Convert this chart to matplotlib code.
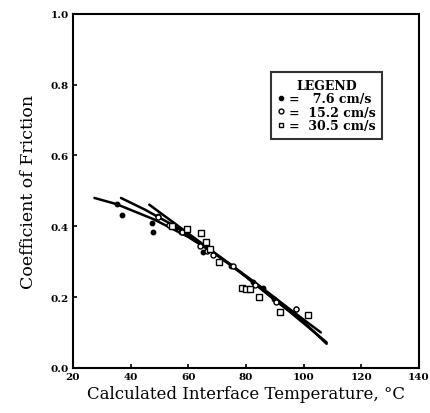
import matplotlib
matplotlib.use("Agg")
import matplotlib.pyplot as plt
from matplotlib.lines import Line2D

# Data
x_76 = [35.3, 36.9, 47.4, 47.8, 49.7, 55.7, 57.5, 65.1, 75.0, 82.6, 86.0, 89.9, 97.3]
y_76 = [0.463, 0.432, 0.410, 0.385, 0.430, 0.397, 0.385, 0.327, 0.289, 0.242, 0.225, 0.195, 0.167]

x_152 = [49.5, 53.5, 58.0, 64.0, 66.5, 68.5, 75.5, 83.0, 90.5, 97.5]
y_152 = [0.425, 0.405, 0.385, 0.345, 0.330, 0.318, 0.288, 0.235, 0.185, 0.165]

x_305 = [54.5, 59.7, 64.3, 66.0, 67.5, 70.6, 78.6, 80.0, 81.5, 84.4, 91.8, 101.6]
y_305 = [0.400, 0.393, 0.380, 0.355, 0.336, 0.298, 0.225, 0.222, 0.223, 0.200, 0.157, 0.150]

fit_76_x = [27.5, 35, 48, 60, 70, 80, 90, 100, 108]
fit_76_y = [0.480, 0.463, 0.420, 0.370, 0.318, 0.258, 0.192, 0.130, 0.068]

fit_152_x = [36.7, 45, 55, 65, 75, 85, 95, 106]
fit_152_y = [0.480, 0.447, 0.402, 0.347, 0.290, 0.230, 0.167, 0.100]

fit_305_x = [46.5, 50, 55, 65, 75, 85, 95, 108]
fit_305_y = [0.461, 0.440, 0.410, 0.350, 0.290, 0.225, 0.160, 0.072]

legend_labels = ["=   7.6 cm/s", "=  15.2 cm/s", "=  30.5 cm/s"]
xticks = [20, 40, 60, 80, 100, 120, 140]
yticks = [0.0, 0.2, 0.4, 0.6, 0.8, 1.0]

serif = ["DejaVu Serif"]

fig = plt.figure(figsize=(4.31, 4.14), dpi=100)
ax = fig.add_axes([0.169, 0.109, 0.803, 0.855])

for fx, fy in [(fit_76_x, fit_76_y), (fit_152_x, fit_152_y), (fit_305_x, fit_305_y)]:
    ax.plot(fx, fy, color="black", lw=1.8, solid_capstyle="round")

ax.plot(x_76, y_76, "o", color="black", ms=3.2, ls="none")
ax.plot(x_152, y_152, "o", mfc="white", mec="black", mew=1.0, ms=3.6, ls="none")
ax.plot(x_305, y_305, "s", mfc="white", mec="black", mew=1.0, ms=3.8, ls="none")

ax.set_xlim(20, 140)
ax.set_ylim(0.0, 1.0)
ax.set_xticks(xticks)
ax.set_yticks(yticks)
ax.set_xticklabels([str(t) for t in xticks], fontfamily=serif, fontweight="bold", fontsize=7.5)
ax.set_yticklabels([f"{t:.1f}" for t in yticks], fontfamily=serif, fontweight="bold", fontsize=7.5)
ax.tick_params(direction="in", length=3, width=1.2, pad=3)
for s in ax.spines.values():
    s.set_linewidth(1.5)

ax.set_xlabel("Calculated Interface Temperature, \u00b0C", fontfamily=serif, fontsize=12, labelpad=3)
ax.set_ylabel("Coefficient of Friction", fontfamily=serif, fontsize=12.5, labelpad=10)

handles = [
    Line2D([], [], marker="o", color="black", ms=3, ls="none"),
    Line2D([], [], marker="o", mfc="white", mec="black", ms=3.5, ls="none"),
    Line2D([], [], marker="s", mfc="white", mec="black", ms=3.5, ls="none"),
]
leg = ax.legend(handles, legend_labels, title="LEGEND", loc="upper left",
                bbox_to_anchor=(0.573, 0.835), frameon=True, fancybox=False,
                edgecolor="black", handlelength=0.6, handletextpad=0.3,
                labelspacing=0.05, borderpad=0.5, borderaxespad=0.0,
                prop={"family": serif, "weight": "bold", "size": 9})
leg.get_frame().set_linewidth(1.5)
leg.get_title().set_fontfamily(serif)
leg.get_title().set_fontweight("bold")
leg.get_title().set_fontsize(9)

fig.savefig("out.png", dpi=100)
